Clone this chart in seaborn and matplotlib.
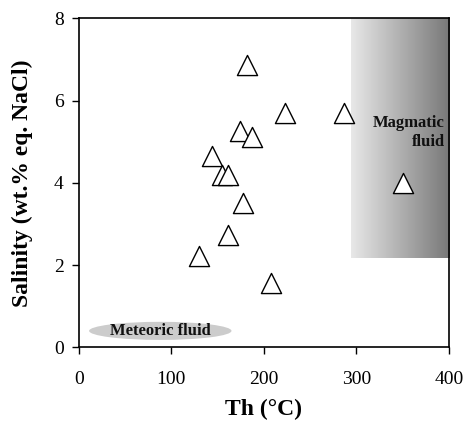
import numpy as np
import pandas as pd
import matplotlib
matplotlib.use("Agg")
import matplotlib.pyplot as plt
from matplotlib.patches import Ellipse
from matplotlib.colors import LinearSegmentedColormap
import seaborn as sns

# Data
th = [182, 223, 287, 174, 187, 144, 155, 161, 177, 161, 130, 208, 351]
salinity = [6.86, 5.70, 5.70, 5.27, 5.12, 4.66, 4.19, 4.20, 3.52, 2.72, 2.21, 1.56, 3.99]
x_ticks = [0, 100, 200, 300, 400]
y_ticks = [0, 2, 4, 6, 8]

df = pd.DataFrame({"Th": th, "Salinity": salinity})

sns.set_theme(style="ticks")
plt.rcParams["font.family"] = ["Liberation Serif", "DejaVu Serif"]
plt.rcParams["text.color"] = "black"
plt.rcParams["axes.labelcolor"] = "black"

fig = plt.figure(figsize=(4.67, 4.21), dpi=100)
ax = fig.add_axes([0.169, 0.175, 0.792, 0.7815])

# Magmatic fluid gradient region
cmap = LinearSegmentedColormap.from_list("g", ["#e8e8e8", "#787878"])
grad = np.linspace(0, 1, 256).reshape(1, -1)
ax.imshow(grad, cmap=cmap, aspect="auto", extent=[294, 400, 2.17, 8], zorder=0)

# Meteoric fluid ellipse
ax.add_patch(Ellipse((88, 0.40), 154, 0.44, facecolor="#cccccc", edgecolor="none", zorder=1))
ax.text(88, 0.40, "Meteoric fluid", ha="center", va="center", fontsize=12,
        fontweight="bold", color="#111111", zorder=2)
ax.text(396, 5.22, "Magmatic\nfluid", ha="right", va="center", fontsize=12,
        fontweight="bold", color="#111111", linespacing=1.25, zorder=2)

sns.scatterplot(data=df, x="Th", y="Salinity", marker="^", s=210,
                facecolor="white", edgecolor="black", linewidth=1.0, ax=ax, zorder=3)

ax.set_xlim(0, 400)
ax.set_ylim(0, 8)
ax.set_xticks(x_ticks)
ax.set_yticks(y_ticks)
ax.set_xticklabels([str(v) for v in x_ticks])
ax.set_yticklabels([str(v) for v in y_ticks])
ax.tick_params(direction="out", length=5, width=1, labelsize=14, colors="black")
ax.tick_params(axis="x", pad=12)
ax.tick_params(axis="y", pad=6)
for s in ax.spines.values():
    s.set_visible(True)
    s.set_linewidth(1.2)
    s.set_color("black")
ax.set_xlabel("Th (°C)", fontsize=17, fontweight="bold", labelpad=8, color="black")
ax.set_ylabel("Salinity (wt.% eq. NaCl)", fontsize=17, fontweight="bold", labelpad=15, color="black")
ax.set_facecolor("white")

fig.savefig("out.png", dpi=100)
